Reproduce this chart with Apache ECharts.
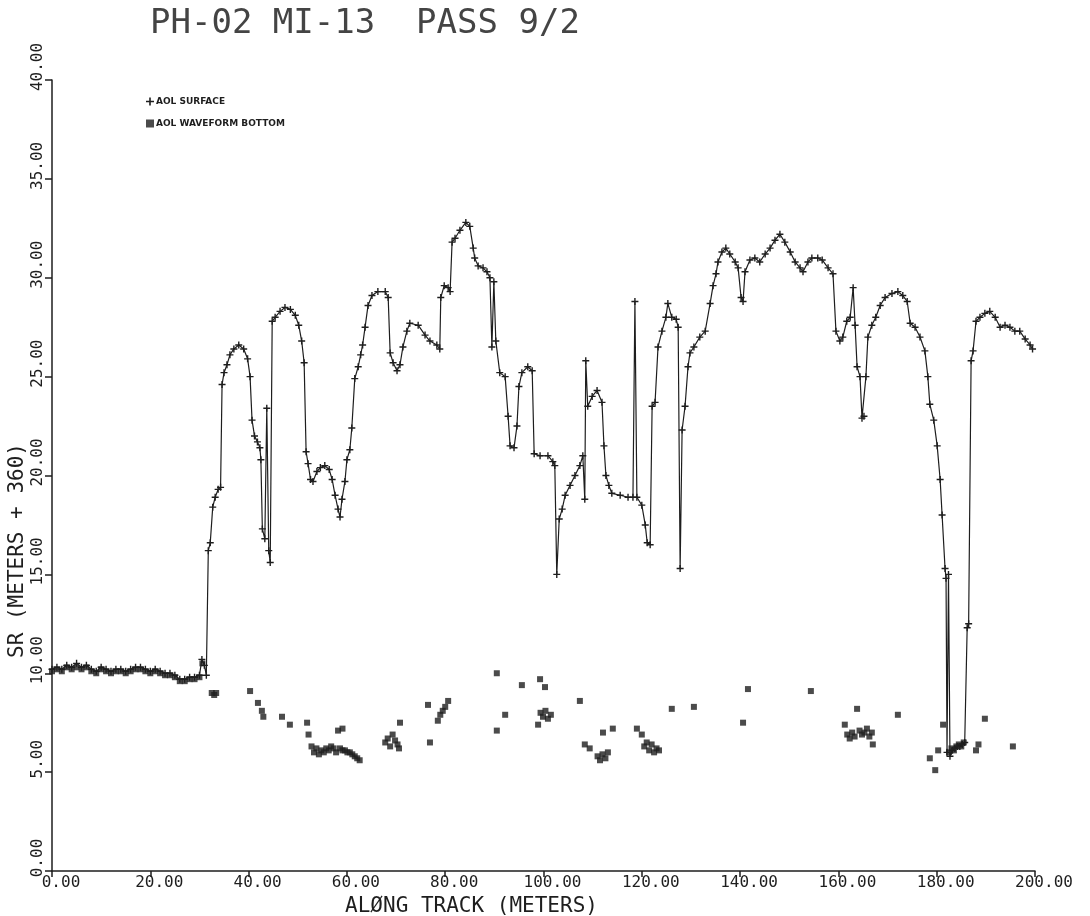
<!DOCTYPE html>
<html>
<head>
<meta charset="utf-8">
<title>PH-02 MI-13 PASS 9/2</title>
<script src="https://cdn.jsdelivr.net/npm/echarts@6/dist/echarts.min.js"></script>
<style>
  html, body { margin: 0; padding: 0; background: #fff; }
  #chart { width: 1090px; height: 916px; }
</style>
</head>
<body>
<div id="chart"></div>
<script>
// along track (m) / SR (m + 360)
var surfaceX = [0, 1, 2, 3, 4, 5, 6, 7, 8, 9, 10, 11, 12, 13, 14, 15, 16, 17, 18, 19, 20, 21, 22, 23, 24, 25, 26, 27, 28, 29, 30, 30.5, 31, 31.4,
	31.8, 32.2, 32.7, 33.2, 33.8, 34.3, 34.6, 35, 35.6, 36.2, 37, 38, 39, 39.8, 40.3, 40.7, 41.2, 41.8, 42.3, 42.5, 42.8, 43.3, 43.7, 44.1, 44.4,
	44.8, 45.4, 46.4, 47.4, 48.5, 49.5, 50.2, 50.8, 51.3, 51.7, 52.1, 52.6, 53.1, 53.9, 54.6, 55.5, 56.4, 57, 57.6, 58.2, 58.6, 59, 59.6, 60,
	60.6, 61, 61.6, 62.3, 62.8, 63.2, 63.7, 64.3, 65.1, 66.3, 67.8, 68.4, 68.8, 69.4, 70.2, 70.8, 71.4, 72.2, 72.8, 74.5, 75.9, 76.9, 78.3, 78.9,
	79.1, 79.8, 80.6, 81, 81.4, 82, 83, 84.2, 85, 85.7, 86, 86.7, 87.7, 88.5, 89.1, 89.5, 89.9, 90.3, 91.1, 92.2, 92.8, 93.2, 94, 94.6, 95,
	95.6, 96.8, 97.7, 98.1, 99.3, 100.9, 101.9, 102.3, 102.7, 103.2, 103.8, 104.4, 105.4, 106.4, 107.4, 108, 108.4, 108.6, 109, 109.9, 110.9,
	111.9, 112.3, 112.7, 113.3, 113.9, 115.6, 117.2, 118.2, 118.6, 119, 120, 120.7, 121.1, 121.7, 122.1, 122.7, 123.3, 124.1, 124.9, 125.3,
	126.1, 127, 127.4, 127.8, 128.2, 128.8, 129.4, 129.8, 130.6, 131.8, 132.9, 133.9, 134.5, 135.1, 135.5, 136.3, 137.1, 137.9, 139, 139.6,
	140.2, 140.6, 141, 142, 143, 144, 145.1, 146.1, 147.1, 148.1, 149.1, 150.2, 151.2, 152.2, 152.8, 153.8, 154.6, 155.8, 156.7, 157.9, 158.9,
	159.5, 160.3, 160.9, 161.7, 162.4, 163, 163.4, 163.8, 164.4, 164.8, 165.2, 165.6, 166, 166.8, 167.6, 168.5, 169.5, 170.9, 172.1, 173.1,
	174, 174.6, 175.6, 176.6, 177.6, 178.2, 178.6, 179.4, 180.1, 180.7, 181.1, 181.7, 181.9, 182.1, 182.4, 182.7, 183.2, 183.7, 184.2, 184.7,
	185.2, 185.7, 186.2, 186.5, 187, 187.4, 188, 188.8, 189.8, 190.8, 191.9, 192.9, 193.9, 194.9, 195.9, 196.9, 198, 199, 199.5];
var surfaceY = [10.2, 10.3, 10.2, 10.4, 10.3, 10.5, 10.3, 10.4, 10.2, 10.1, 10.3, 10.2, 10.1, 10.2, 10.2, 10.1, 10.2, 10.3, 10.3, 10.2, 10.1, 10.2, 10.1, 10.0, 10.0, 9.9, 9.7, 9.7, 9.8, 9.8, 9.9, 10.7, 10.4, 9.9,
	16.2, 16.6, 18.4, 18.9, 19.3, 19.4, 24.6, 25.2, 25.6, 26.1, 26.4, 26.6, 26.4, 25.9, 25.0, 22.8, 22.0, 21.7, 21.4, 20.8, 17.3, 16.8, 23.4, 16.2, 15.6,
	27.8, 28.0, 28.3, 28.5, 28.4, 28.1, 27.6, 26.8, 25.7, 21.2, 20.6, 19.8, 19.7, 20.2, 20.4, 20.5, 20.3, 19.8, 19.0, 18.3, 17.9, 18.8, 19.7, 20.8,
	21.3, 22.4, 24.9, 25.5, 26.1, 26.6, 27.5, 28.6, 29.1, 29.3, 29.3, 29.0, 26.2, 25.7, 25.3, 25.6, 26.5, 27.3, 27.7, 27.6, 27.1, 26.8, 26.6, 26.4,
	29.0, 29.6, 29.5, 29.3, 31.8, 32.0, 32.4, 32.8, 32.6, 31.5, 31.0, 30.6, 30.5, 30.3, 30.0, 26.5, 29.8, 26.8, 25.2, 25.0, 23.0, 21.5, 21.4, 22.5, 24.5,
	25.2, 25.5, 25.3, 21.1, 21.0, 21.0, 20.7, 20.5, 15.0, 17.8, 18.3, 19.0, 19.5, 20.0, 20.5, 21.0, 18.8, 25.8, 23.5, 24.0, 24.3,
	23.7, 21.5, 20.0, 19.5, 19.1, 19.0, 18.9, 18.9, 28.8, 18.9, 18.5, 17.5, 16.6, 16.5, 23.5, 23.7, 26.5, 27.3, 28.0, 28.7,
	28.0, 27.9, 27.5, 15.3, 22.3, 23.5, 25.5, 26.2, 26.5, 27.0, 27.3, 28.7, 29.6, 30.2, 30.8, 31.3, 31.5, 31.2, 30.8, 30.5,
	29.0, 28.8, 30.3, 30.9, 31.0, 30.8, 31.2, 31.5, 31.9, 32.2, 31.8, 31.3, 30.8, 30.5, 30.3, 30.8, 31.0, 31.0, 30.9, 30.5, 30.2,
	27.3, 26.8, 27.0, 27.8, 28.0, 29.5, 27.6, 25.5, 25.0, 22.9, 23.0, 25.0, 27.0, 27.6, 28.0, 28.6, 29.0, 29.2, 29.3, 29.1,
	28.8, 27.7, 27.5, 27.0, 26.3, 25.0, 23.6, 22.8, 21.5, 19.8, 18.0, 15.3, 14.8, 6.0, 15.0, 5.8, 6.1, 6.2, 6.3, 6.3,
	6.4, 6.5, 12.3, 12.5, 25.8, 26.3, 27.8, 28.0, 28.2, 28.3, 28.0, 27.5, 27.6, 27.5, 27.3, 27.3, 26.9, 26.6, 26.4];

var bottomX = [0, 1, 2, 3, 4, 5, 6, 7, 8, 9, 10, 11, 12, 13, 14, 15, 16, 17, 18, 19, 20, 21, 22, 23, 24, 25, 26, 27, 28, 29, 30, 30.6,
	32.5, 33, 33.4, 40.3, 41.9, 42.7, 43, 46.8, 48.4, 51.9, 52.2, 52.8, 53.3, 53.8, 54.3, 54.8, 55.3, 55.8, 56.3, 56.8, 57.3, 57.8, 58.2, 58.6,
	59.1, 59.1, 59.6, 60.1, 60.6, 61.1, 61.6, 62.1, 62.6, 67.8, 68.3, 68.8, 69.3, 69.8, 70.3, 70.8, 70.6, 76.5, 76.9, 78.5, 79, 79.5, 80, 80.6,
	90.5, 90.5, 92.2, 95.6, 99.3, 100.3, 98.9, 99.4, 99.9, 100.4, 100.9, 101.5, 107.4, 108.4, 109.4, 111, 111.5, 112.1, 112, 112.6, 113.1, 114.1,
	119, 120, 120.5, 121, 121.5, 122, 122.5, 123, 123.5, 126.1, 130.6, 140.6, 141.6, 154.4, 161.3, 161.8, 162.3, 162.8, 163.3, 163.8, 164.3,
	164.8, 165.3, 165.8, 166.3, 166.8, 167, 172.1, 178.6, 179.7, 180.3, 181.3, 182.5, 183, 183.5, 184, 184.5, 185, 185.5, 188, 188.5, 189.8, 195.5];
var bottomY = [10.1, 10.2, 10.1, 10.3, 10.2, 10.3, 10.2, 10.3, 10.1, 10.0, 10.2, 10.1, 10.0, 10.1, 10.1, 10.0, 10.1, 10.2, 10.2, 10.1, 10.0, 10.1, 10.0, 9.9, 9.9, 9.8, 9.6, 9.6, 9.7, 9.7, 9.8, 10.5,
	9.0, 8.9, 9.0, 9.1, 8.5, 8.1, 7.8, 7.8, 7.4, 7.5, 6.9, 6.3, 6.0, 6.2, 5.9, 6.1, 6.0, 6.2, 6.1, 6.3, 6.2, 6.0, 7.1, 6.2,
	6.1, 7.2, 6.1, 6.0, 6.0, 5.9, 5.8, 5.7, 5.6, 6.5, 6.7, 6.3, 6.9, 6.6, 6.4, 7.5, 6.2, 8.4, 6.5, 7.6, 7.9, 8.1, 8.3, 8.6,
	10.0, 7.1, 7.9, 9.4, 9.7, 9.3, 7.4, 8.0, 7.8, 8.1, 7.7, 7.9, 8.6, 6.4, 6.2, 5.8, 5.6, 7.0, 5.9, 5.7, 6.0, 7.2,
	7.2, 6.9, 6.3, 6.5, 6.1, 6.4, 6.0, 6.2, 6.1, 8.2, 8.3, 7.5, 9.2, 9.1, 7.4, 6.9, 6.7, 7.0, 6.8, 8.2, 7.1,
	6.9, 7.0, 7.2, 6.8, 7.0, 6.4, 7.9, 5.7, 5.1, 6.1, 7.4, 6.0, 6.2, 6.1, 6.3, 6.4, 6.3, 6.5, 6.1, 6.4, 7.7, 6.3];

var xTicks = [0, 20, 40, 60, 80, 100, 120, 140, 160, 180, 200];
var yTicks = [0, 5, 10, 15, 20, 25, 30, 35, 40];

function pairs(xs, ys) {
	var out = [];
	for (var i = 0; i < xs.length; i++) {
		out.push([xs[i], ys[i]]);
	}
	return out;
}

var ink = '#1e1e1e';
var mono = '"DejaVu Sans Mono", "Liberation Mono", monospace';
var plusPath = 'path://M4,0h2v4h4v2h-4v4h-2v-4h-4v-2h4z';

var myChart = echarts.init(document.getElementById('chart'));

var option = {
	backgroundColor: '#fff',
	animation: false,
	title: {
		text: 'PH-02 MI-13  PASS 9/2',
		left: 145,
		top: 2,
		textStyle: {
			fontFamily: mono,
			fontSize: 34,
			fontWeight: 'normal',
			color: '#444'
		}
	},
	legend: {
		orient: 'vertical',
		left: 141,
		top: 92,
		itemGap: 13,
		itemWidth: 8,
		itemHeight: 8,
		textStyle: {
			fontFamily: '"DejaVu Sans", sans-serif',
			fontSize: 9,
			fontWeight: 'bold',
			color: ink,
			padding: [0, 0, 0, -3]
		},
		data: [
			{ name: 'AOL SURFACE', icon: plusPath },
			{ name: 'AOL WAVEFORM BOTTOM', icon: 'rect' }
		]
	},
	grid: {
		left: 52,
		right: 55,
		top: 80,
		bottom: 45,
		outerBoundsMode: 'none'
	},
	xAxis: {
		type: 'value',
		min: xTicks[0],
		max: xTicks[xTicks.length - 1],
		interval: 20,
		name: 'ALØNG TRACK (METERS)',
		nameLocation: 'middle',
		nameGap: 24,
		nameTextStyle: {
			fontFamily: mono,
			fontSize: 21,
			color: ink,
			padding: [0, 144, 0, 0]
		},
		axisLine: { lineStyle: { color: ink, width: 1.5 } },
		axisTick: { show: true, inside: false, length: 6, lineStyle: { color: ink, width: 1.5 } },
		axisLabel: {
			fontFamily: mono,
			fontSize: 16,
			color: ink,
			margin: 4,
			padding: [0, 0, 0, 18],
			formatter: function (v) { return v.toFixed(2); }
		},
		splitLine: { show: false }
	},
	yAxis: {
		type: 'value',
		min: yTicks[0],
		max: yTicks[yTicks.length - 1],
		interval: 5,
		name: 'SR (METERS + 360)',
		nameLocation: 'middle',
		nameGap: 24,
		nameMoveOverlap: false,
		nameTextStyle: {
			fontFamily: mono,
			fontSize: 21,
			color: ink,
			padding: [0, 150, 0, 0]
		},
		axisLine: { lineStyle: { color: ink, width: 1.5 } },
		axisTick: { show: true, inside: false, length: 7, lineStyle: { color: ink, width: 1.5 } },
		axisLabel: {
			fontFamily: mono,
			fontSize: 16,
			color: ink,
			rotate: 90,
			margin: 6,
			padding: [0, 0, 0, 26],
			formatter: function (v) { return v.toFixed(2); }
		},
		splitLine: { show: false }
	},
	series: [
		{
			name: 'AOL SURFACE',
			type: 'line',
			data: pairs(surfaceX, surfaceY),
			symbol: plusPath,
			symbolSize: 7,
			showAllSymbol: true,
			lineStyle: { color: ink, width: 1.2 },
			itemStyle: { color: ink },
			z: 3
		},
		{
			name: 'AOL WAVEFORM BOTTOM',
			type: 'scatter',
			data: pairs(bottomX, bottomY),
			symbol: 'rect',
			symbolSize: 6,
			itemStyle: { color: ink },
			z: 2
		}
	]
};

myChart.setOption(option, true);
</script>
</body>
</html>
